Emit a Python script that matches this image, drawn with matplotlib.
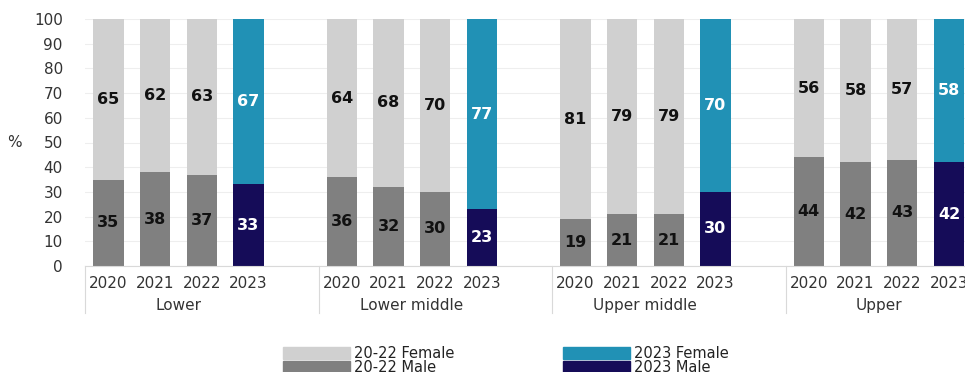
import matplotlib.pyplot as plt
import matplotlib.patches as mpatches
import numpy as np

plt.rcParams['font.family'] = ['DejaVu Sans']

years = ["2020", "2021", "2022", "2023"]
groups = ["Lower", "Lower middle", "Upper middle", "Upper"]
male = [[35, 38, 37, 33], [36, 32, 30, 23], [19, 21, 21, 30], [44, 42, 43, 42]]
female = [[65, 62, 63, 67], [64, 68, 70, 77], [81, 79, 79, 70], [56, 58, 57, 58]]

c_fem_old = "#d0d0d0"
c_male_old = "#808080"
c_fem_new = "#2191b5"
c_male_new = "#150c58"


def main():
    fig = plt.figure(figsize=(9.65, 3.72), dpi=100)
    ax = fig.add_axes([85 / 965, 106 / 372, 934 / 965, 247 / 372])

    # 5 slots per group (4 years + a blank one)
    xs, labels = [], []
    for g in range(len(groups)):
        for i, yr in enumerate(years):
            x = g * 5 + i
            xs.append(x)
            labels.append(yr)
            new = i == len(years) - 1
            cm = c_male_new if new else c_male_old
            cf = c_fem_new if new else c_fem_old
            tc = "white" if new else "#111111"
            m = male[g][i]
            f = female[g][i]
            ax.bar(x, m, width=0.65, color=cm, zorder=2)
            ax.bar(x, f, bottom=m, width=0.65, color=cf, zorder=2)
            ax.text(x, m / 2, str(m), ha="center", va="center", color=tc,
                    fontsize=11.5, fontweight="bold", zorder=3)
            ax.text(x, m + f / 2, str(f), ha="center", va="center", color=tc,
                    fontsize=11.5, fontweight="bold", zorder=3)

    ax.set_xlim(-0.5, 19.5)
    ax.set_ylim(0, 100)
    ax.set_yticks(np.arange(0, 101, 10))
    ax.set_xticks(xs)
    ax.set_xticklabels(labels)
    ax.tick_params(axis="both", length=0, labelsize=11, colors="#333333")
    ax.tick_params(axis="y", pad=16)
    ax.tick_params(axis="x", pad=7)
    ax.grid(axis="y", color="#eeeeee", linewidth=0.8, zorder=0)
    for s in ["top", "right", "left"]:
        ax.spines[s].set_visible(False)
    ax.spines["bottom"].set_color("#d9d9d9")
    ax.set_ylabel("%", rotation=0, fontsize=11, color="#333333", labelpad=14,
                  va="center")

    trans = ax.get_xaxis_transform()
    for g, name in enumerate(groups):
        ax.text(g * 5 + 1.5, -0.16, name, transform=trans, ha="center",
                va="center", fontsize=11, color="#333333")
        ax.plot([g * 5 - 0.5, g * 5 - 0.5], [0, -0.19], transform=trans,
                color="#d9d9d9", linewidth=0.8, clip_on=False)

    handles = [
        mpatches.Patch(color=c_fem_old, label="20-22 Female"),
        mpatches.Patch(color=c_male_old, label="20-22 Male"),
        mpatches.Patch(color=c_fem_new, label="2023 Female"),
        mpatches.Patch(color=c_male_new, label="2023 Male"),
    ]
    leg = fig.legend(handles=handles, ncol=2, loc="upper left",
                     bbox_to_anchor=(283 / 965, 1 - 346 / 372), frameon=False,
                     fontsize=10.5, handlelength=4.6, handleheight=0.8,
                     labelspacing=-0.1, handletextpad=0.3, columnspacing=7.4,
                     borderpad=0, borderaxespad=0)
    for t in leg.get_texts():
        t.set_color("#222222")

    fig.savefig("out.png", dpi=100)


if __name__ == '__main__':
    main()
